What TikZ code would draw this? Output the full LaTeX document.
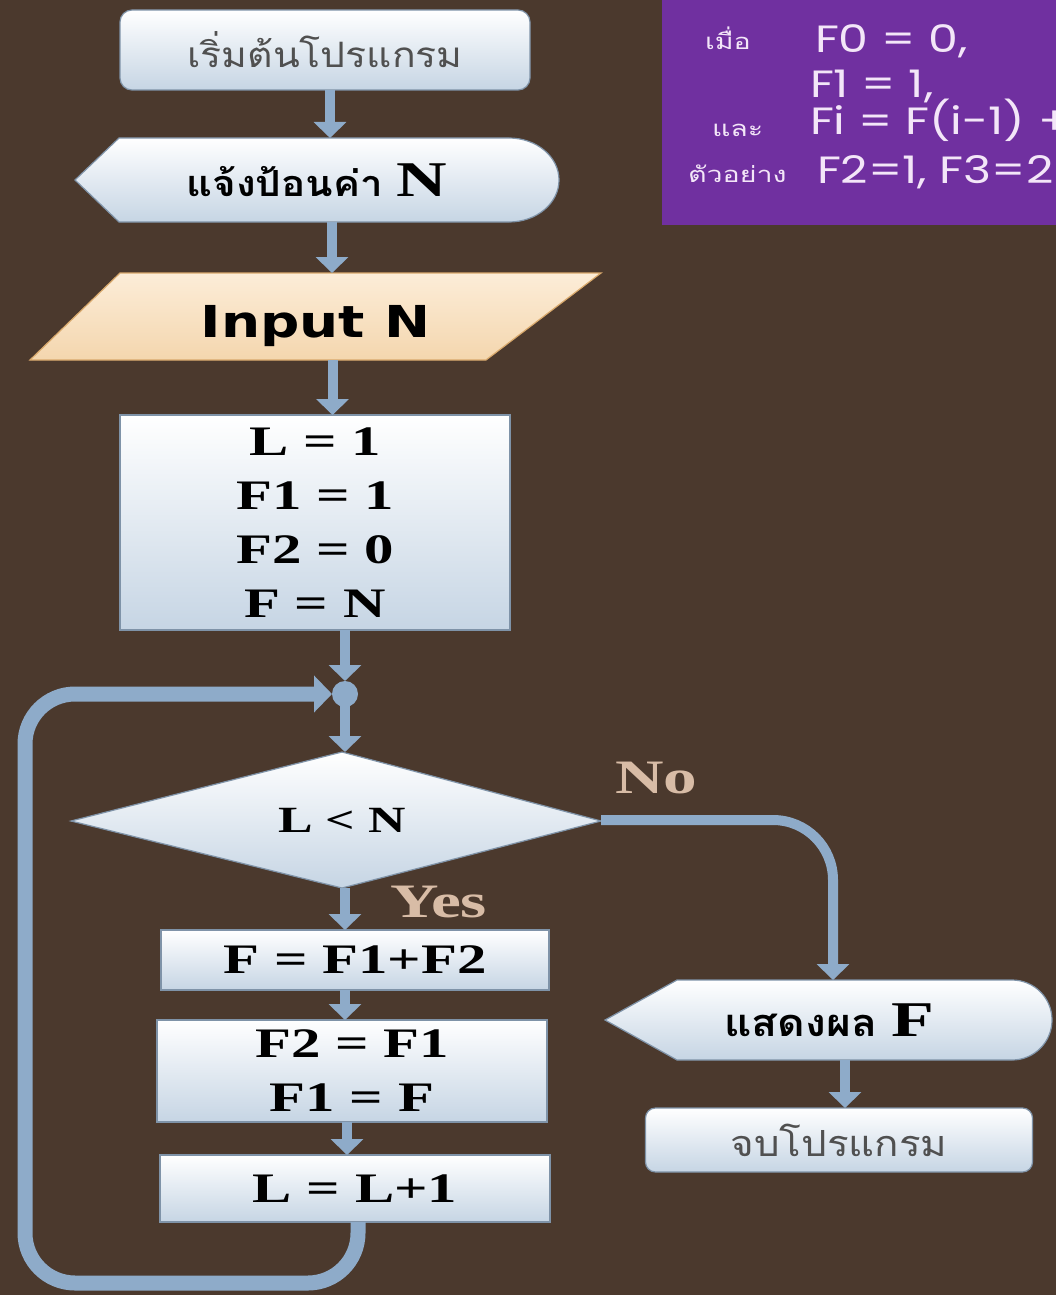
\documentclass[tikz,border=0pt]{standalone}
\usepackage{fontspec}
\setmainfont{Liberation Serif}[FakeStretch=1.4]
\newfontfamily\thaif[Script=Thai,FakeStretch=1.12]{Loma}
\newfontfamily\thais[Script=Thai,FakeStretch=1.3]{Loma}
\newfontfamily\inputf[FakeStretch=1.25]{DejaVu Sans}
\newfontfamily\purpf[FakeStretch=1.25]{Poppins}
\usetikzlibrary{arrows.meta}
\definecolor{bg}{HTML}{4B392D}
\definecolor{purp}{HTML}{7030A0}
\definecolor{conn}{HTML}{8EABC9}
\definecolor{boxbot}{HTML}{C6D5E4}
\definecolor{boxedge}{HTML}{7F93A8}
\definecolor{tanlbl}{HTML}{D8BCA6}
\definecolor{ptext}{HTML}{F3E6F8}
\definecolor{graytxt}{HTML}{505050}
\definecolor{inptop}{HTML}{FCEDD8}
\definecolor{inpbot}{HTML}{F4D6AE}
\definecolor{inpedge}{HTML}{D9A96C}
\begin{document}
\begin{tikzpicture}[x=1pt,y=-1pt,
  every node/.style={inner sep=0pt,outer sep=0pt},
  shapefill/.style={top color=white,bottom color=boxbot,draw=boxedge,line width=1.2pt},
  fbox/.style={rectangle,shapefill,align=center,text=black},
  rbox/.style={fbox,rounded corners=12pt},
  ghost/.style={rectangle,align=center,text=black},
  arr/.style={draw=conn,line width=10pt,-{Triangle[width=32pt,length=16pt]}},
  loopline/.style={draw=conn,line width=15pt,rounded corners=50pt,-{Triangle[width=36pt,length=18pt]}},
  sbold/.style={font=\fontsize{42}{54}\selectfont\bfseries},
  lbl/.style={text=tanlbl,font=\fontsize{48}{48}\selectfont\bfseries},
  ptxt/.style={text=ptext,font=\purpf\fontsize{38}{38}\selectfont},
  pthai/.style={text=ptext,font=\thais\fontsize{22}{22}\selectfont}
]
\useasboundingbox (0,0) rectangle (1056,1295);
\fill[bg] (0,0) rectangle (1056,1295);

% info box
\fill[purp] (662,0) rectangle (1056,225);
\begin{scope}
\clip (662,0) rectangle (1056,225);
\node[pthai,anchor=base west] (w1) at (705,50) {เมื่อ};
\node[ptxt,anchor=base west] (p1) at (815,53) {F0 = 0,};
\node[ptxt,anchor=base west] (p2) at (810,98) {F1 = 1,};
\node[pthai,anchor=base west] (w2) at (712,136) {และ};
\node[ptxt,anchor=base west] (p3) at (810,135) {Fi = F(i-1) +};
\node[pthai,anchor=base west] (w3) at (688,182) {ตัวอย่าง};
\node[ptxt,anchor=base west] (p4) at (817,183) {F2=1, F3=2};
\end{scope}

% start
\node[rbox,minimum width=410,minimum height=80] (start) at (325,50)
  {\thaif\fontsize{35}{40}\selectfont\color{graytxt}เริ่มต้นโปรแกรม};

% display 1
\path[shapefill] (75,180) -- (119,138) -- (509,138)
  arc[start angle=-90,end angle=90,x radius=50,y radius=42] -- (119,222) -- cycle;
\node[ghost,minimum width=484,minimum height=84] (disp1) at (317,180)
  {\thaif\bfseries\fontsize{36}{40}\selectfont แจ้งป้อนค่า\hspace{14pt}{\rmfamily\fontsize{50}{50}\selectfont\bfseries N}};

% input
\path[top color=inptop,bottom color=inpbot,draw=inpedge,line width=1.2pt]
  (120,273) -- (601,273) -- (486,360) -- (30,360) -- cycle;
\node[ghost,minimum width=571,minimum height=87] (inp) at (315.5,316.5) {};
\node[anchor=base,text=black,font=\inputf\bfseries\fontsize{44}{44}\selectfont] (inptxt) at (315.5,337) {Input N};

% init
\node[fbox,minimum width=390,minimum height=215,sbold] (init) at (315,522.5)
  {L = 1\\F1 = 1\\F2 = 0\\F = N};

% junction
\coordinate (jn) at (345,694);
\fill[conn] (jn) circle[radius=13];

% decision
\path[shapefill] (342,752) -- (601,821) -- (342,888) -- (71,821) -- cycle;
\node[ghost,minimum width=530,minimum height=136,font=\fontsize{37}{37}\selectfont\bfseries] (dec) at (342,820) {L < N};
\node[lbl,anchor=base west] (no) at (615,793) {No};
\node[lbl,anchor=base west] (yes) at (390,917) {Yes};

% loop body
\node[fbox,minimum width=388,minimum height=60,sbold] (b1) at (355,960) {F = F1+F2};
\node[fbox,minimum width=390,minimum height=102,sbold] (b2) at (352,1071) {F2 = F1\\F1 = F};
\node[fbox,minimum width=390,minimum height=67,sbold] (b3) at (355,1188.5) {L = L+1};

% output
\path[shapefill] (605,1020) -- (677,980) -- (1012,980)
  arc[start angle=-90,end angle=90,x radius=40,y radius=40] -- (677,1060) -- cycle;
\node[ghost,minimum width=445,minimum height=80] (out) at (829,1020)
  {\thaif\bfseries\fontsize{38}{40}\selectfont แสดงผล\hspace{14pt}{\rmfamily\fontsize{50}{50}\selectfont\bfseries F}};
\node[rbox,minimum width=387,minimum height=64,rounded corners=10pt] (fin) at (839,1140)
  {\thaif\fontsize{36}{40}\selectfont\color{graytxt}จบโปรแกรม};

% connectors
\draw[arr] ([xshift=5pt]start.south) -- ([xshift=5pt]start.south |- disp1.north);
\draw[arr] ([xshift=15pt]disp1.south) -- ([xshift=15pt]disp1.south |- inp.north);
\draw[arr] ([xshift=17pt]inp.south) -- ([xshift=17pt]inp.south |- init.north);
\draw[arr] ([xshift=30pt]init.south) -- ([yshift=13pt]jn);
\draw[arr] (jn) -- (jn |- dec.north);
\draw[arr,rounded corners=60pt] ([xshift=-6pt]dec.east) -| ([xshift=4pt]out.north);
\draw[arr] ([xshift=3pt]dec.south) -- ([xshift=3pt]dec.south |- b1.north);
\draw[arr] ([xshift=-10pt]b1.south) -- ([xshift=-10pt]b1.south |- b2.north);
\draw[arr] ([xshift=-5pt]b2.south) -- ([xshift=-5pt]b2.south |- b3.north);
\draw[arr] ([xshift=16pt]out.south) -- ([xshift=16pt]out.south |- fin.north);
\coordinate (lc) at (25,1283);
\draw[loopline] ([xshift=3pt]b3.south) |- (lc) |- ([xshift=-13pt]jn);
\end{tikzpicture}
\end{document}
